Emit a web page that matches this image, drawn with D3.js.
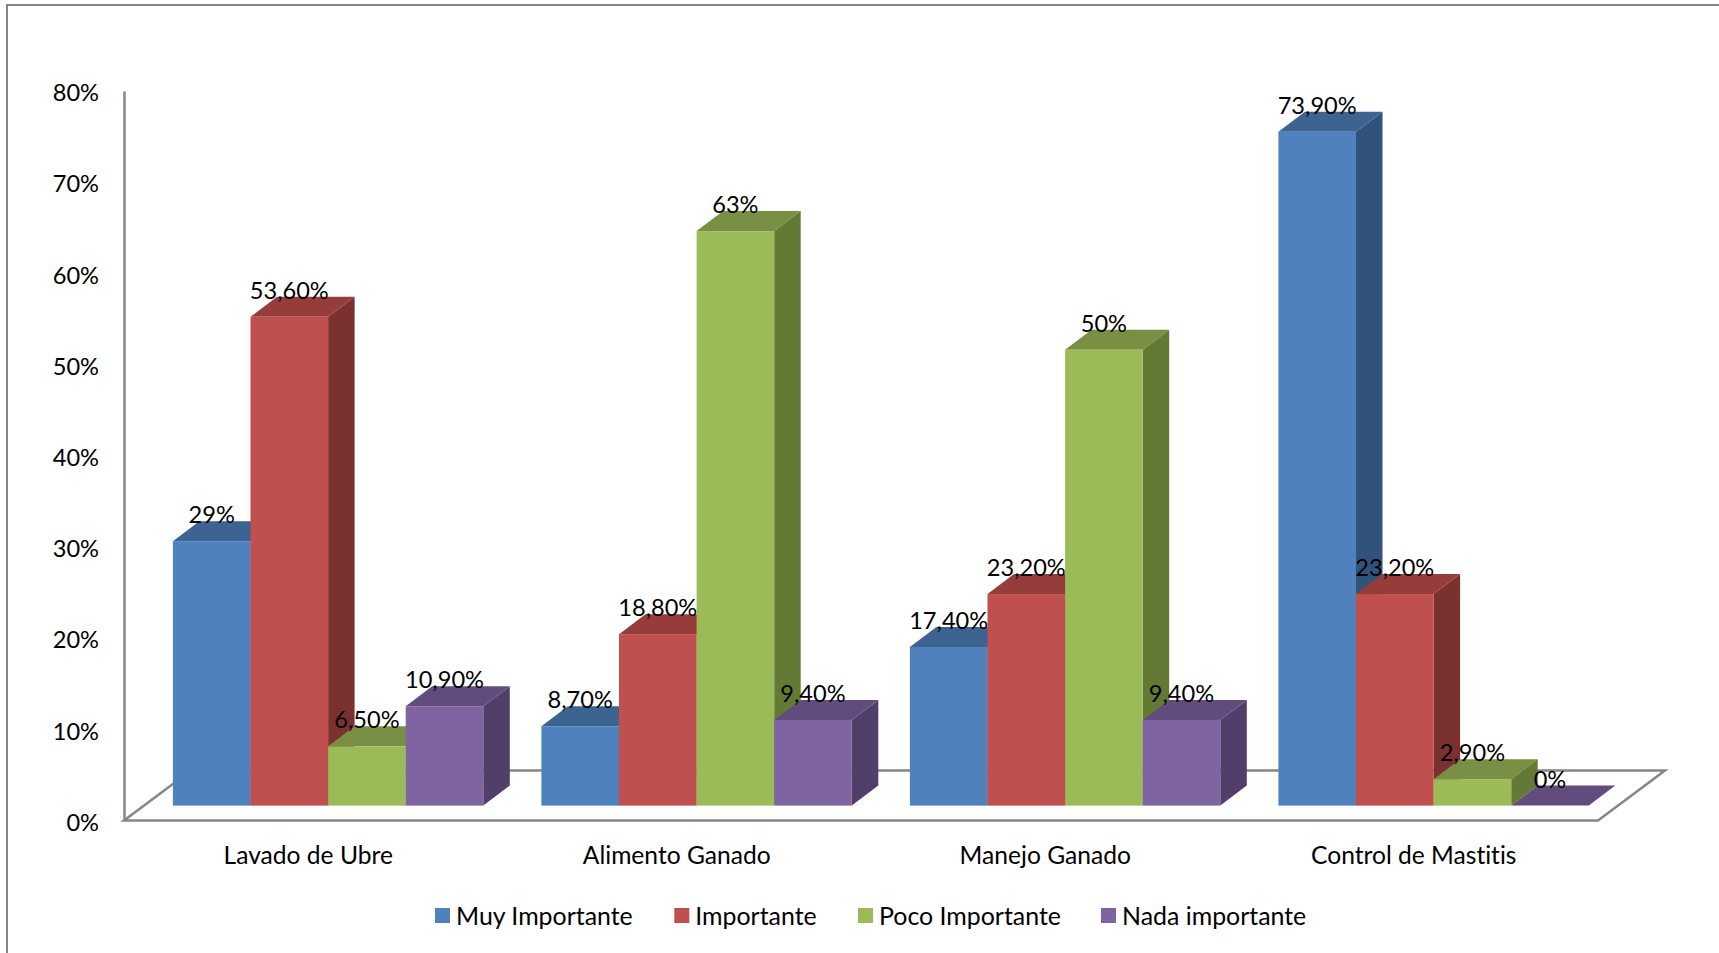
<!DOCTYPE html>
<html>
<head>
<meta charset="utf-8">
<script src="https://cdn.jsdelivr.net/npm/d3@7"></script>
<style>
  html, body { margin: 0; padding: 0; background: #fff; }
  text { font-family: Lato, "Open Sans", sans-serif; fill: #000; font-variant-ligatures: none; }
</style>
</head>
<body>
<div id="chart"></div>
<script>
const categories = ['Lavado de Ubre', 'Alimento Ganado', 'Manejo Ganado', 'Control de Mastitis'];
const seriesNames = ['Muy Importante', 'Importante', 'Poco Importante', 'Nada importante'];
const muyImportante = [29, 8.7, 17.4, 73.9];
const importante = [53.6, 18.8, 23.2, 23.2];
const pocoImportante = [6.5, 63, 50, 2.9];
const nadaImportante = [10.9, 9.4, 9.4, 0];
const seriesValues = [muyImportante, importante, pocoImportante, nadaImportante];
const yTicks = [0, 10, 20, 30, 40, 50, 60, 70, 80];

const frontColors = ['#4f81bd', '#c0504d', '#9bbb59', '#8064a2'];
const topColors = ['#3d6391', '#963d3b', '#788f44', '#624c7e'];
const sideColors = ['#31527a', '#7a3130', '#637a34', '#523f69'];

const width = 1719, height = 953;
const depth = {bar: [26.5, 20], floor: [67, 50]};
const barLift = 14.9; // bars stand on the floor, above the front edge

const x0 = d3.scaleBand().domain(categories).range([124, 1598]);
const x1 = d3.scaleBand().domain(seriesNames).range([48.9, 359.3]);
const y = d3.scaleLinear().domain([0, 80]).range([820.5, 91]);

const label = v => Number.isInteger(v) ? v + '%' : v.toFixed(2).replace('.', ',') + '%';

const svg = d3.select('#chart').append('svg')
  .attr('width', width)
  .attr('height', height)
  .attr('viewBox', [0, 0, width, height])
  .style('display', 'block');

// outer chart border, only left and top are in the picture
svg.append('path')
  .attr('d', `M7,${height}V5H${width}`)
  .attr('fill', 'none')
  .attr('stroke', '#868686')
  .attr('stroke-width', 2);

// floor
const [fx, fy] = depth.floor;
svg.append('path')
  .attr('d', d3.line()([
    [x0.range()[0], y(0)],
    [x0.range()[1], y(0)],
    [x0.range()[1] + fx, y(0) - fy],
    [x0.range()[0] + fx, y(0) - fy]
  ]) + 'Z')
  .attr('fill', 'none')
  .attr('stroke', '#868686')
  .attr('stroke-width', 2.5);

// axes
const yAxis = svg.append('g')
  .attr('transform', `translate(${x0.range()[0]},0)`)
  .call(d3.axisLeft(y).tickValues(yTicks).tickFormat(d => d + '%').tickSize(0).tickPadding(25));
yAxis.select('.domain').attr('stroke', '#868686').attr('stroke-width', 2.5);
yAxis.selectAll('text').style('font-size', '23.6px').style('font-family', 'Lato').attr('dy', '0.41em');

const xAxis = svg.append('g')
  .attr('transform', `translate(0,${y(0)})`)
  .call(d3.axisBottom(x0).tickSize(0).tickPadding(26));
xAxis.select('.domain').remove();
xAxis.selectAll('text').style('font-size', '24.6px').style('font-family', 'Lato');

// bars, left to right so each one covers the side of the one before
const [bx, by] = depth.bar;
const bars = categories.flatMap((c, i) => seriesNames.map((s, j) => ({c, s, j, v: seriesValues[j][i]})));

const bar = svg.append('g').selectAll('g')
  .data(bars)
  .enter().append('g')
  .attr('transform', d => `translate(${x0(d.c) + x1(d.s)},0)`);

const w = x1.bandwidth();
const baseY = y(0) - barLift;

bar.append('path') // side
  .attr('fill', d => sideColors[d.j])
  .attr('d', d => d3.line()([[w, baseY], [w + bx, baseY - by], [w + bx, y(d.v) - barLift - by], [w, y(d.v) - barLift]]) + 'Z');

bar.append('path') // top
  .attr('fill', d => topColors[d.j])
  .attr('d', d => {
    const t = y(d.v) - barLift;
    return d3.line()([[0, t], [bx, t - by], [w + bx, t - by], [w, t]]) + 'Z';
  });

bar.append('rect') // front
  .attr('fill', d => frontColors[d.j])
  .attr('width', w)
  .attr('y', d => y(d.v) - barLift)
  .attr('height', d => baseY - y(d.v) + barLift);

// value labels go on top of every bar
svg.append('g').selectAll('text')
  .data(bars)
  .enter().append('text')
  .attr('x', d => x0(d.c) + x1(d.s) + w / 2)
  .attr('y', d => y(d.v) - barLift - 18)
  .attr('text-anchor', 'middle')
  .style('font-size', '23.6px')
  .text(d => label(d.v));

// legend
const legendX = [435, 674.3, 858, 1101];
const legend = svg.append('g').selectAll('g')
  .data(seriesNames)
  .enter().append('g')
  .attr('transform', (d, i) => `translate(${legendX[i]},908)`);

legend.append('rect')
  .attr('width', 15)
  .attr('height', 15)
  .attr('fill', (d, i) => frontColors[i]);

legend.append('text')
  .attr('x', 21)
  .attr('y', 16.5)
  .style('font-size', '24.9px')
  .text(d => d);
</script>
</body>
</html>
